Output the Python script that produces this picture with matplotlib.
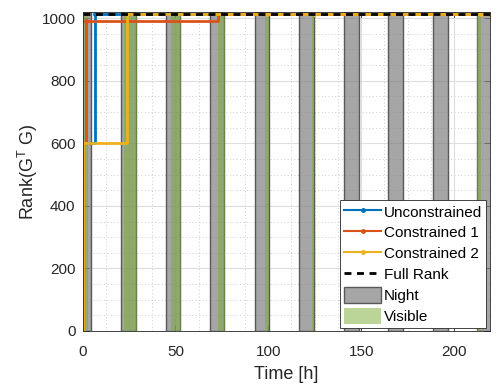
import matplotlib
matplotlib.use("Agg")
import matplotlib.pyplot as plt
from matplotlib.patches import Patch
from matplotlib.lines import Line2D
from matplotlib.ticker import MultipleLocator

plt.rcParams['font.family'] = ['Liberation Sans', 'DejaVu Sans']
plt.rcParams['mathtext.default'] = 'regular'

# rank of G^T G against time [h]
unc_t = [0.0, 0.3, 6.5, 219.4]
unc_r = [0, 600, 1014, 1014]
con1_t = [0.0, 0.5, 1.8, 73.0, 219.4]
con1_r = [0, 600, 992, 1014, 1014]
con2_t = [0.0, 0.2, 24.0, 99.2, 124.6, 214.6, 219.4]
con2_r = [0, 600, 1014, 1014, 1014, 1014, 1014]
full_rank = 1014

# night and visibility windows [h]
night_start = [-3.1, 20.7, 44.8, 68.6, 92.6, 116.7, 140.8, 164.6, 188.8, 212.5]
night_end = [4.7, 28.6, 52.6, 76.4, 100.5, 124.6, 148.9, 172.6, 196.6, 220.5]
vis_start = [0.0, 22.5, 47.6, 72.7, 98.2, 123.5, 212.4]
vis_end = [3.2, 29.2, 53.0, 76.7, 100.6, 124.7, 214.6]

xticks = [0, 50, 100, 150, 200]
yticks = [0, 200, 400, 600, 800, 1000]

c_unc = '#0072BD'
c_con1 = '#D95319'
c_con2 = '#EDB120'
night_face = (0.5, 0.5, 0.5, 0.7)
night_edge = (0.35, 0.35, 0.35)
vis_face = (0.466, 0.674, 0.188, 0.5)
ax_col = (0.15, 0.15, 0.15)

fig = plt.figure(figsize=(4.97, 3.86), dpi=100)
ax = fig.add_axes([0.166, 0.1425, 0.82, 0.8265])

for s, e in zip(night_start, night_end):
    ax.axvspan(s, e, facecolor=night_face, edgecolor=night_edge, lw=1.0, zorder=1)
for s, e in zip(vis_start, vis_end):
    ax.axvspan(s, e, facecolor=vis_face, edgecolor='none', zorder=1.5)

ax.plot(unc_t, unc_r, color=c_unc, lw=2, marker='.', ms=5, drawstyle='steps-post', zorder=3)
ax.plot(con1_t, con1_r, color=c_con1, lw=2, marker='.', ms=5, drawstyle='steps-post', zorder=3)
ax.plot(con2_t, con2_r, color=c_con2, lw=2, marker='.', ms=5, drawstyle='steps-post', zorder=3)
ax.axhline(full_rank, color='black', lw=2, dashes=(2.5, 2), zorder=4)

ax.set_xlim(0, 219.4)
ax.set_ylim(0, 1020)
ax.set_xticks(xticks)
ax.set_yticks(yticks)
ax.xaxis.set_minor_locator(MultipleLocator(12.5))
ax.yaxis.set_minor_locator(MultipleLocator(50))

ax.grid(True, which='major', color=(0.87, 0.87, 0.87), lw=0.8, zorder=0)
ax.grid(True, which='minor', color=(0.8, 0.8, 0.8), lw=0.7, ls=(0, (1, 2.5)), zorder=0)
ax.set_axisbelow(True)

ax.tick_params(which='major', direction='in', length=4, top=True, right=True,
               colors=ax_col, labelsize=11, width=0.6)
ax.tick_params(axis='x', which='major', pad=10)
ax.tick_params(axis='y', which='major', pad=5)
ax.tick_params(which='minor', length=0)
for sp in ax.spines.values():
    sp.set_color(ax_col)
    sp.set_linewidth(0.6)
    sp.set_zorder(5)

ax.set_xlabel('Time [h]', fontsize=13, color=ax_col, labelpad=5)
ax.set_ylabel(r'Rank(G$^{T}$ G)', fontsize=13, color=ax_col, labelpad=1)

handles = [
    Line2D([], [], color=c_unc, lw=1.5, marker='.', ms=5),
    Line2D([], [], color=c_con1, lw=1.5, marker='.', ms=5),
    Line2D([], [], color=c_con2, lw=1.5, marker='.', ms=5),
    Line2D([], [], color='black', lw=2, dashes=(2.5, 2)),
    Patch(facecolor=night_face, edgecolor=night_edge, lw=1.0),
    Patch(facecolor=vis_face, edgecolor='none'),
]
labels = ['Unconstrained', 'Constrained 1', 'Constrained 2', 'Full Rank', 'Night', 'Visible']
leg = ax.legend(handles, labels, loc='lower right', bbox_to_anchor=(0.99, 0.01),
                fontsize=11, frameon=True, fancybox=False, framealpha=1,
                edgecolor=ax_col, handlelength=2.4, handleheight=1.2,
                handletextpad=0.2, labelspacing=0.32, borderpad=0.25,
                borderaxespad=0)
leg.get_frame().set_linewidth(0.6)
leg.set_zorder(6)

fig.savefig('out.png', dpi=100)
